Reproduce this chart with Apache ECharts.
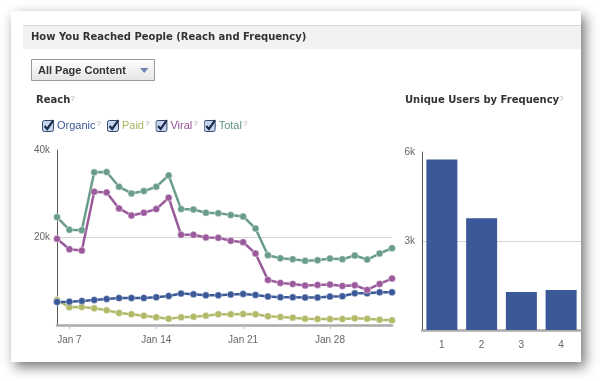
<!DOCTYPE html>
<html><head><meta charset="utf-8">
<script src="https://cdn.jsdelivr.net/npm/echarts@6/dist/echarts.min.js"></script>
<style>html,body{margin:0;padding:0;background:#fff}#c{width:600px;height:381px}</style>
</head><body><div id="c"></div>
<script>
const dates = ['Jan 6','Jan 7','Jan 8','Jan 9','Jan 10','Jan 11','Jan 12','Jan 13','Jan 14','Jan 15','Jan 16','Jan 17','Jan 18','Jan 19','Jan 20','Jan 21','Jan 22','Jan 23','Jan 24','Jan 25','Jan 26','Jan 27','Jan 28','Jan 29','Jan 30','Jan 31','Feb 1','Feb 2'];
const organic = [5270,5340,5500,5730,5950,6180,6180,6180,6340,6640,7180,7020,6790,6790,6950,7100,6870,6490,6340,6340,6260,6260,6490,6570,7250,7250,7480,7480];
const paid = [5730,4050,4120,3820,3360,2750,2440,2140,1760,1450,1760,1910,2140,2440,2440,2520,2440,1990,1830,1680,1450,1370,1370,1370,1530,1450,1220,1070];
const viral = [19700,17330,17020,30460,30310,26640,25040,25650,26490,29090,20610,20610,20000,19920,19240,18930,16340,10310,9620,9390,9010,9160,9240,8930,9080,8020,9390,10610];
const total = [24660,21760,21680,34890,34960,31610,30080,30610,31610,34200,26490,26410,25650,25570,25120,24810,22060,15960,15270,15040,14660,14810,15190,15040,15880,14960,16340,17560];
const frequency = ['1','2','3','4'];
const users = [5750,3770,1280,1350];
const reachTicks = [0,20000,40000];
const freqTicks = [0,3000,6000];

const FONT = "'Liberation Sans', Arial, sans-serif";
const TFONT = "'DejaVu Sans', sans-serif";
const C = {organic:'#3b5998', paid:'#b2ba6a', viral:'#9a5a9c', total:'#6a9c8c'};
const LEG = {Organic:'#3b5998', Paid:'#a9b35e', Viral:'#8e4f93', Total:'#5e9282'};
const keyOf = {Organic:'o', Paid:'p', Viral:'v', Total:'t'};

const cbSvg = "<svg xmlns='http://www.w3.org/2000/svg' width='13' height='13'><rect x='0.5' y='1.5' width='11' height='11' rx='2' fill='#c6d4ee' stroke='#34496e'/><path d='M2.6 7 L5.2 10 L11.5 1.2' stroke='#1d2c4c' stroke-width='2.2' fill='none'/></svg>";
const cbIcon = 'image://data:image/svg+xml;charset=utf-8,' + encodeURIComponent(cbSvg);

function lineSeries(name, data, color) {
  return {
    name, type:'line', data, xAxisIndex:0, yAxisIndex:0,
    symbol:'circle', symbolSize:7, showSymbol:true,
    lineStyle:{color, width:2.5},
    itemStyle:{color, borderColor:'rgba(255,255,255,0.45)', borderWidth:1},
    emphasis:{disabled:true}, animation:false
  };
}

const chart = echarts.init(document.getElementById('c'), null, {renderer:'canvas'});
const rich = {q:{color:'#aaa', fontSize:8, verticalAlign:'top', padding:[0,0,0,1], fontFamily:FONT}};
Object.keys(LEG).forEach(k => { rich[keyOf[k]] = {color:LEG[k], fontSize:11, fontFamily:FONT}; });
const titleRich = {b:{fill:'#333', font:'bold 10px '+TFONT}, q:{fill:'#aaa', font:'8px '+FONT, verticalAlign:'top'}};

chart.setOption({
  animation:false,
  textStyle:{fontFamily:FONT},
  graphic:[
    {type:'rect', z:-10, shape:{x:11, y:11, width:570, height:351},
     style:{fill:'#fff', shadowBlur:12, shadowOffsetX:4, shadowOffsetY:5, shadowColor:'rgba(0,0,0,0.55)'}},
    {type:'rect', z:-9, shape:{x:23, y:25, width:558, height:24}, style:{fill:'#f2f2f2'}},
    {type:'line', z:-9, shape:{x1:23, y1:25.5, x2:581, y2:25.5}, style:{stroke:'#d8d8d8', lineWidth:1}},
    {type:'text', z:1, x:31, y:37, style:{text:'How You Reached People (Reach and Frequency)', fill:'#333', font:'bold 10px '+TFONT, verticalAlign:'middle'}},
    {type:'rect', z:-8, shape:{x:31.5, y:59.5, width:123, height:21},
     style:{stroke:'#9a9a9a', lineWidth:1, fill:new echarts.graphic.LinearGradient(0,0,0,1,[{offset:0,color:'#ffffff'},{offset:1,color:'#e4e4e4'}])}},
    {type:'text', z:1, x:38, y:70.5, style:{text:'All Page Content', fill:'#333', font:'bold 11px '+FONT, verticalAlign:'middle'}},
    {type:'polygon', z:1, shape:{points:[[140,68],[148.5,68],[144.25,73]]}, style:{fill:'#6d84b4'}},
    {type:'text', z:1, x:36, y:100, style:{text:'{b|Reach}{q|?}', verticalAlign:'middle', rich:titleRich}},
    {type:'text', z:1, x:405, y:100, style:{text:'{b|Unique Users by Frequency}{q|?}', verticalAlign:'middle', rich:titleRich}}
  ],
  legend:{
    left:37, top:114, itemWidth:13, itemHeight:13, itemGap:6, icon:cbIcon,
    selectedMode:false,
    data:['Organic','Paid','Viral','Total'].map(n => ({name:n, icon:cbIcon})),
    formatter: n => '{' + keyOf[n] + '|' + n + '}{q|?}',
    textStyle:{rich, padding:[0,0,0,-3]}
  },
  grid:[
    {left:57, right:208, top:150, bottom:56},
    {left:422, right:19, top:152, bottom:51}
  ],
  xAxis:[
    {type:'category', gridIndex:0, data:dates, boundaryGap:false,
     axisLine:{lineStyle:{color:'#aaa', width:2.5}},
     axisTick:{show:true, interval:(i)=> i%7===1, length:4, lineStyle:{color:'#bbb'}},
     axisLabel:{interval:(i)=> i%7===1, color:'#666', fontSize:10, margin:10},
     splitLine:{show:false}},
    {type:'category', gridIndex:1, data:frequency,
     axisLine:{lineStyle:{color:'#aaa', width:2.5}},
     axisTick:{show:false},
     axisLabel:{color:'#666', fontSize:10, margin:10}}
  ],
  yAxis:[
    {type:'value', gridIndex:0, min:reachTicks[0], max:reachTicks[2], interval:reachTicks[1],
     axisLine:{show:true, lineStyle:{color:'#555', width:1}}, axisTick:{show:false},
     axisLabel:{showMinLabel:false, color:'#666', fontSize:10, margin:7, verticalAlign:'middle', formatter:v=> (v/1000)+'k'},
     splitLine:{show:true, showMinLine:false, showMaxLine:false, lineStyle:{color:'#d4d4d4', width:1}}},
    {type:'value', gridIndex:1, min:freqTicks[0], max:freqTicks[2], interval:freqTicks[1],
     axisLine:{show:true, lineStyle:{color:'#555', width:1}}, axisTick:{show:false},
     axisLabel:{showMinLabel:false, color:'#666', fontSize:10, margin:7, formatter:v=> (v/1000)+'k'},
     splitLine:{show:true, showMinLine:false, showMaxLine:false, lineStyle:{color:'#d4d4d4', width:1}}}
  ],
  series:[
    lineSeries('Paid', paid, C.paid),
    lineSeries('Organic', organic, C.organic),
    lineSeries('Viral', viral, C.viral),
    lineSeries('Total', total, C.total),
    {name:'Unique Users', type:'bar', xAxisIndex:1, yAxisIndex:1, data:users,
     barCategoryGap:'22%', itemStyle:{color:'#3b5998'}, emphasis:{disabled:true}}
  ]
});
</script></body></html>
